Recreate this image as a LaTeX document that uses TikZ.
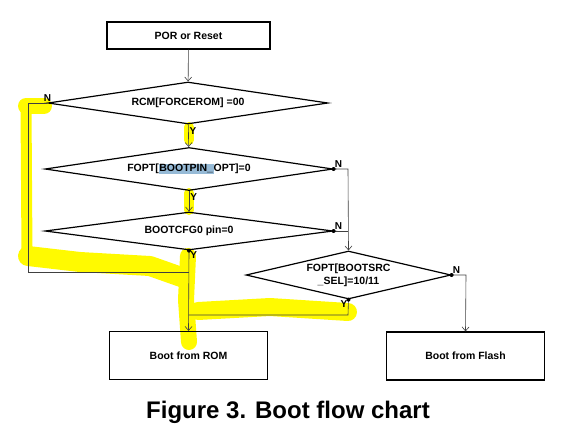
\documentclass[tikz,border=0pt]{standalone}
\usepackage{fontspec}
\setmainfont{Liberation Sans}
\usetikzlibrary{arrows.meta,shapes.geometric}
\definecolor{selblue}{RGB}{150,186,214}
\definecolor{marker}{RGB}{255,250,0}

\begin{document}
\begin{tikzpicture}[x=1pt, y=-1pt,
  box/.style={draw, line width=1.2pt, minimum width=158pt, minimum height=48pt, font=\fontsize{10.5}{12}\bfseries},
  decision/.style={draw, diamond, line width=1.2pt, inner sep=0pt, align=center, font=\fontsize{10.5}{13}\bfseries},
  conn/.style={draw=black!75, line width=0.6pt},
  arrow/.style={conn, -{Straight Barb[length=4pt, width=7pt]}},
  yn/.style={font=\fontsize{10}{11}\bfseries, inner sep=1pt},
  dot/.style={circle, fill, inner sep=0pt, minimum size=4pt},
  hilite/.style={draw=marker, line width=11pt, line cap=round, line join=round}
]
\useasboundingbox (0,0) rectangle (588,437);

% marker strokes behind the chart
\draw[hilite, line width=16pt] (26,106) -- (44,106);
\draw[hilite] (26,106) -- (27,255);
\draw[hilite, line width=20pt] (28,256) -- (80,262) -- (150,266) -- (184,278);
\draw[hilite, line width=10pt] (189,127) -- (189,140);
\draw[hilite, line width=10pt] (189,193) -- (189,210);
\draw[hilite, line width=16pt] (188,256) -- (186,300) -- (189,342);
\draw[hilite, line width=18pt] (198,311) -- (270,307) -- (348,312);

\node[box, minimum width=163pt, minimum height=27pt] (por) at (188.5,35.5) {POR or Reset};
\node[decision, shape aspect=6.7, minimum width=280pt, minimum height=42pt] (forcerom) at (188,103) {RCM[FORCEROM] =00};
\node[decision, shape aspect=6.7, minimum width=288pt, minimum height=43pt] (bootpin) at (189,169)
  {FOPT[{\setlength{\fboxsep}{0.6pt}\colorbox{selblue}{BOOTPIN\_}}OPT]=0};
\node[decision, shape aspect=7.5, minimum width=288pt, minimum height=38pt] (bootcfg) at (189,231) {BOOTCFG0 pin=0};
\node[decision, shape aspect=4.3, minimum width=205pt, minimum height=48pt] (bootsrc) at (348.5,275) {FOPT[BOOTSRC\\\_SEL]=10/11};
\node[box] (rom) at (188.5,355.5) {Boot from ROM};
\node[box] (flash) at (465.5,356) {Boot from Flash};

\coordinate (joinleft) at (rom.north |- 0,272);
\coordinate (joinsrc) at (rom.north |- 0,315);

\draw[arrow] (por) -- (forcerom);
\draw[arrow] (forcerom) -- node[yn, anchor=west, pos=0.3] {Y} (bootpin);
\draw[arrow] (bootpin) -- node[yn, anchor=west, pos=0.3] {Y} (bootcfg);
\draw[arrow] (bootcfg.south) -- node[yn, anchor=west, pos=0.06] {Y} (rom.north);
\draw[conn] (forcerom.west) -- (28,103) -- (28,272) -- (joinleft);
\draw[arrow] (bootpin.east) -- (348,169) -- (bootsrc.north);
\draw[conn] (bootcfg.east) -- (348,231);
\draw[conn] (bootsrc.south) -- (348,315) -- (joinsrc);
\draw[arrow] (bootsrc.east) -- (466,275) -- (flash.north);

% branch labels and dots
\node[yn, anchor=south] at (forcerom.west) {N};
\node[yn, anchor=south west] at (bootpin.east) {N};
\node[yn, anchor=south west] at (bootcfg.east) {N};
\node[yn, anchor=south west] at (bootsrc.east) {N};
\node[yn, anchor=north east] at (bootsrc.south) {Y};
\foreach \p in {bootpin.east, bootcfg.east, bootcfg.south, bootsrc.south, bootsrc.east}
  \node[dot] at (\p) {};

\node[font=\fontsize{24}{28}\bfseries] (caption) at (288,412) {Figure 3. Boot flow chart};
\end{tikzpicture}
\end{document}
